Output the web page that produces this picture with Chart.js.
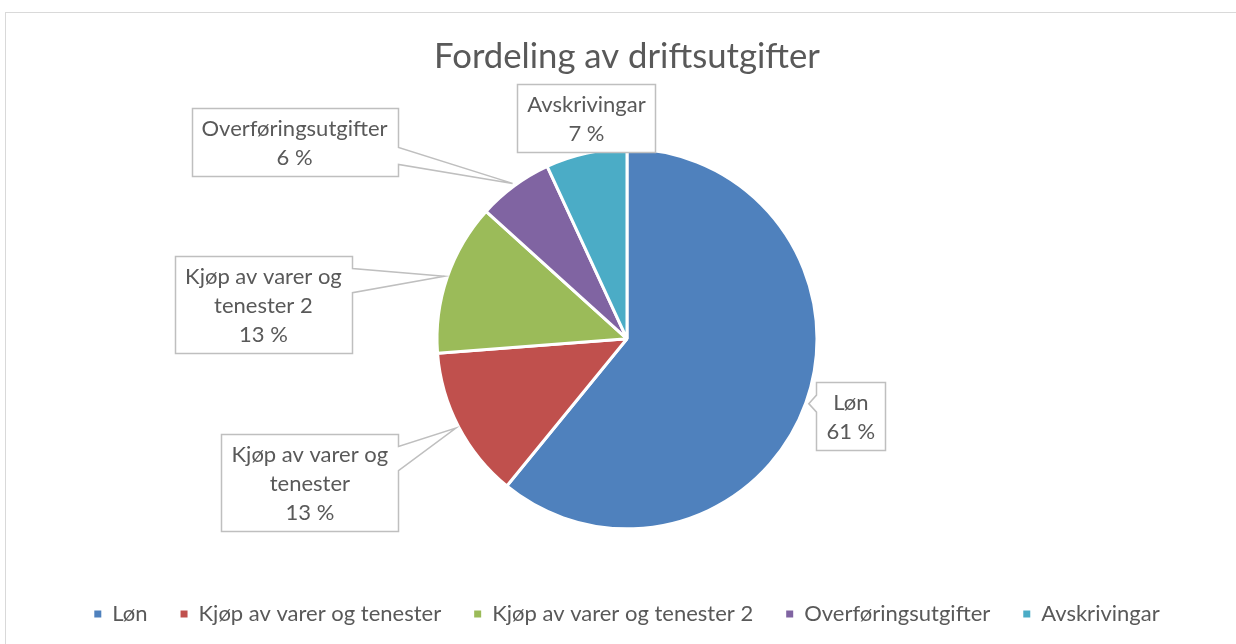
<!DOCTYPE html>
<html>
<head>
<meta charset="utf-8">
<script src="https://cdn.jsdelivr.net/npm/chart.js"></script>
<style>
  html, body { margin: 0; padding: 0; background: #fff; overflow: hidden; }
  #frame { position: absolute; left: 5px; top: 12px; width: 1400px; height: 800px; border: 1px solid #D9D9D9; }
  #wrap { position: absolute; left: 0; top: 0; width: 1236px; height: 644px; }
</style>
</head>
<body>
<div id="frame"></div>
<div id="wrap"><canvas id="pie"></canvas></div>
<script>
// Data
const categories = ['Løn', 'Kjøp av varer og tenester', 'Kjøp av varer og tenester 2', 'Overføringsutgifter', 'Avskrivingar'];
const shares = [60.9, 12.9, 12.9, 6.4, 6.9];
const labelLines = [['Løn'], ['Kjøp av varer og', 'tenester'], ['Kjøp av varer og', 'tenester 2'], ['Overføringsutgifter'], ['Avskrivingar']];
const colours = ['#4F81BD', '#C0504D', '#9BBB59', '#8064A2', '#4BACC6'];

// where each callout box sits, relative to the point on the slice edge
const calloutOffsets = [[42, 12], [-146, 54], [-181, 28], [-218, -41], [1, -32]];

const FONT = 'Lato, "Open Sans", sans-serif';
const TEXT = '#595959';

const calloutPlugin = {
  id: 'callouts',
  afterDatasetsDraw(chart) {
    const ctx = chart.ctx;
    const meta = chart.getDatasetMeta(0);
    const total = shares.reduce((a, b) => a + b, 0);
    ctx.save();
    ctx.font = '22px ' + FONT;
    meta.data.forEach((arc, i) => {
      const p = arc.getProps(['x', 'y', 'startAngle', 'endAngle', 'outerRadius'], true);
      const mid = (p.startAngle + p.endAngle) / 2;
      const r = p.outerRadius + 3;
      const ax = p.x + Math.cos(mid) * r;
      const ay = p.y + Math.sin(mid) * r;
      const lines = labelLines[i].concat([Math.round(shares[i] / total * 100) + ' %']);
      const tw = Math.max(...lines.map(l => ctx.measureText(l).width));
      const lh = 29;
      const w = Math.round(tw + 20), h = lines.length * lh + 10;
      const cx = ax + calloutOffsets[i][0], cy = ay + calloutOffsets[i][1];
      const x0 = Math.round(cx - w / 2) + 0.5, y0 = Math.round(cy - h / 2) + 0.5;
      const x1 = x0 + w, y1 = y0 + h;

      // outline with pointer
      ctx.beginPath();
      const inside = ax >= x0 && ax <= x1 && ay >= y0 && ay <= y1;
      const L = h / 4, m = 12;
      if (!inside && ax > x1) {
        const c = Math.min(Math.max(ay, y0 + m + L / 2), y1 - m - L / 2);
        ctx.moveTo(x0, y0); ctx.lineTo(x1, y0); ctx.lineTo(x1, c - L / 2);
        ctx.lineTo(ax, ay); ctx.lineTo(x1, c + L / 2); ctx.lineTo(x1, y1); ctx.lineTo(x0, y1);
      } else if (!inside && ax < x0) {
        const c = Math.min(Math.max(ay, y0 + m + L / 2), y1 - m - L / 2);
        ctx.moveTo(x0, y0); ctx.lineTo(x1, y0); ctx.lineTo(x1, y1); ctx.lineTo(x0, y1);
        ctx.lineTo(x0, c + L / 2); ctx.lineTo(ax, ay); ctx.lineTo(x0, c - L / 2);
      } else {
        ctx.rect(x0, y0, w, h);
      }
      ctx.closePath();
      ctx.fillStyle = '#fff';
      ctx.fill();
      ctx.strokeStyle = '#BFBFBF';
      ctx.lineWidth = 1.5;
      ctx.stroke();

      ctx.fillStyle = TEXT;
      ctx.textAlign = 'center';
      ctx.textBaseline = 'middle';
      lines.forEach((l, k) => ctx.fillText(l, cx, y0 + 5 + lh * k + lh / 2 + 1));
    });
    ctx.restore();
  }
};

new Chart(document.getElementById('pie'), {
  type: 'pie',
  data: {
    labels: categories,
    datasets: [{
      data: shares,
      backgroundColor: colours,
      borderColor: '#fff',
      borderWidth: 3,
      radius: 190
    }]
  },
  options: {
    responsive: true,
    maintainAspectRatio: false,
    animation: false,
    layout: { padding: { top: 20, left: 18, right: 0, bottom: 9 } },
    plugins: {
      title: {
        display: true,
        text: 'Fordeling av driftsutgifter',
        color: TEXT,
        font: { family: FONT, size: 34.7, weight: 'normal' },
        padding: { top: 16, bottom: 30 }
      },
      legend: {
        position: 'bottom',
        labels: {
          boxWidth: 7,
          boxHeight: 7,
          padding: 33,
          color: TEXT,
          font: { family: FONT, size: 22 },
          generateLabels(chart) {
            const items = Chart.overrides.pie.plugins.legend.labels.generateLabels(chart);
            return items.map(it => Object.assign(it, { lineWidth: 0, strokeStyle: it.fillStyle }));
          }
        }
      },
      tooltip: { enabled: false }
    }
  },
  plugins: [calloutPlugin]
});
</script>
</body>
</html>
